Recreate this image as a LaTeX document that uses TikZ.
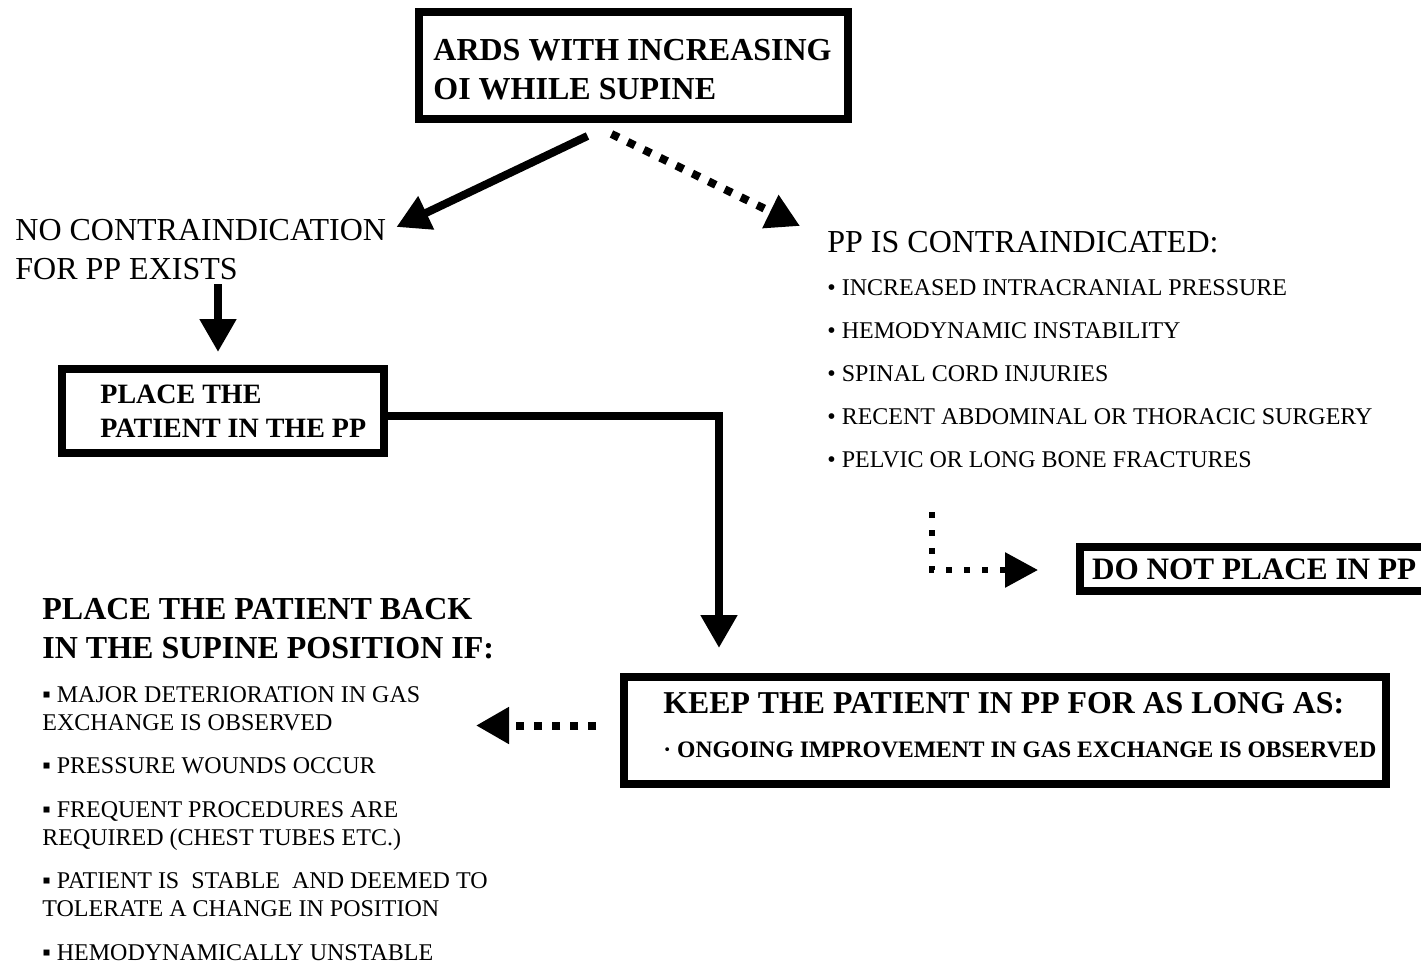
\documentclass[tikz,border=0pt]{standalone}
\usepackage{fontspec}
\setmainfont{Liberation Serif}
\usepackage{tikz}
\usetikzlibrary{positioning,calc}
\usetikzlibrary{arrows.meta}
\tikzset{
	frame/.style={draw=black,line width=4pt,inner sep=0pt},
	boxtext/.style={anchor=north west,inner sep=0pt,align=left,font=\bfseries\fontsize{16}{19.5}\selectfont},
	plaintext/.style={anchor=north west,inner sep=0pt,align=left,font=\fontsize{16}{19.5}\selectfont},
	listtext/.style={anchor=north west,inner sep=0pt,align=left,font=\fontsize{12}{14}\selectfont},
	solidarrow/.style={line width=4pt,-{Triangle[length=16.5pt,width=17.5pt]}},
	dotarrow/.style={line width=4pt,dash pattern=on 4pt off 5pt,-{Triangle[length=16.5pt,width=17.5pt]}},
	elbowarrow/.style={line width=3pt,dash pattern=on 3pt off 6pt,-{Triangle[length=16.5pt,width=17pt]}},
}

\begin{document}
\begin{tikzpicture}[x=0.5pt,y=-0.5pt]
	\useasboundingbox[fill=white] (0,0) rectangle (1421,964);
	\node[frame,minimum width=214.5pt,minimum height=53.5pt] (top) at (633.5,65.5) {};
	\node[boxtext] (toptext) at (433,39) {ARDS WITH INCREASING\\OI WHILE SUPINE};
	\node[plaintext] (nocontra) at (15,219) {NO CONTRAINDICATION\\FOR PP EXISTS};
	\node[plaintext] (contra) at (827,231) {PP IS CONTRAINDICATED:};
	\node[listtext,font=\fontsize{12}{21.5}\selectfont] (contralist) at (827,279) {%
		• INCREASED INTRACRANIAL PRESSURE\\
		• HEMODYNAMIC INSTABILITY\\
		• SPINAL CORD INJURIES\\
		• RECENT ABDOMINAL OR THORACIC SURGERY\\
		• PELVIC OR LONG BONE FRACTURES};
	\node[frame,minimum width=161pt,minimum height=42pt] (place) at (223,411) {};
	\node[boxtext,font=\bfseries\fontsize{14}{17}\selectfont] (placetext) at (100,385) {PLACE THE\\PATIENT IN THE PP};
	\node[frame,anchor=west,inner xsep=6pt,minimum height=22pt,font=\bfseries\fontsize{15.6}{19.5}\selectfont] (donot) at (1076,569) {DO NOT PLACE IN PP};
	\node[boxtext] (back) at (42,598) {PLACE THE PATIENT BACK\\IN THE SUPINE POSITION IF:};
	\node[listtext] (backlist) at (42,686) {%
		▪ MAJOR DETERIORATION IN GAS\\
		EXCHANGE IS OBSERVED\\[7.75pt]
		▪ PRESSURE WOUNDS OCCUR\\[7.75pt]
		▪ FREQUENT PROCEDURES ARE\\
		REQUIRED (CHEST TUBES ETC.)\\[7.75pt]
		▪ PATIENT IS\ \ STABLE\ \ AND DEEMED TO\\
		TOLERATE A CHANGE IN POSITION\\[7.75pt]
		▪ HEMODYNAMICALLY UNSTABLE};
	\node[frame,minimum width=381pt,minimum height=53.5pt] (keep) at (1005,730.5) {};
	\node[boxtext,font=\bfseries\fontsize{15.9}{22}\selectfont] (keeptext) at (663,692) {KEEP THE PATIENT IN PP FOR AS LONG AS:\\{\fontsize{11.8}{22}\selectfont · ONGOING IMPROVEMENT IN GAS EXCHANGE IS OBSERVED}};
	\draw[solidarrow] ($(top.south)+(-46,13)$) -- ($(nocontra.north east)+(10,8)$);
	\draw[dotarrow] ($(top.south)+(-22,11)$) -- ($(contra.north west)+(-27,-5)$);
	\draw[solidarrow] ($(nocontra.south -| place.north)+(-5,4)$) -- ($(place.north)+(-5,-13)$);
	\draw[solidarrow] ($(place.east)+(0,5)$) -| ($(keep.north west)+(99,-25)$);
	\draw[dotarrow] ($(keep.west)+(-24,-5)$) -- ($(keep.west)+(-144,-5)$);
	\draw[elbowarrow] ($(contralist.south west)+(105,44)$) |- ($(donot.west)+(-38,1)$);
\end{tikzpicture}
\end{document}
